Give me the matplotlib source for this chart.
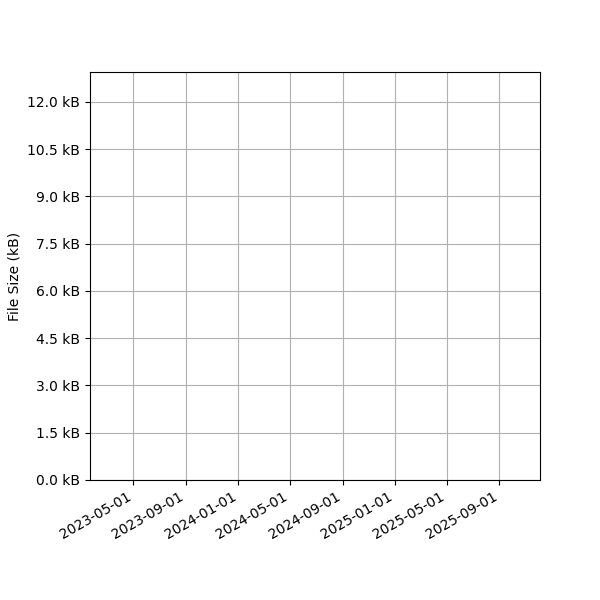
import matplotlib
matplotlib.use("Agg")
import matplotlib.pyplot as plt
import matplotlib.dates as mdates
import numpy as np
import datetime as dt

# Data (the reference chart contains no plotted points)
dates = []
sizes_kb = []
x_range = ["2023-01-20", "2025-12-05"]
y_max_kb = 12.95
tick_dates = ["2023-05-01", "2023-09-01", "2024-01-01", "2024-05-01",
              "2024-09-01", "2025-01-01", "2025-05-01", "2025-09-01"]
y_ticks_kb = [0.0, 1.5, 3.0, 4.5, 6.0, 7.5, 9.0, 10.5, 12.0]

fig, ax = plt.subplots(figsize=(6, 6), dpi=100)
fig.subplots_adjust(left=0.15, right=0.9, top=0.88, bottom=0.2)

ax.plot([dt.datetime.fromisoformat(d) for d in dates], sizes_kb)

ax.set_xlim(dt.datetime.fromisoformat(x_range[0]), dt.datetime.fromisoformat(x_range[1]))
ax.set_xticks([dt.datetime.fromisoformat(d) for d in tick_dates])
ax.xaxis.set_major_formatter(mdates.DateFormatter("%Y-%m-%d"))
ax.set_ylim(0, y_max_kb)
ax.set_yticks(y_ticks_kb)
ax.set_yticklabels([f"{v:.1f} kB" for v in y_ticks_kb])
ax.set_ylabel("File Size (kB)")
ax.grid(True)
plt.setp(ax.get_xticklabels(), rotation=30, ha="right")

fig.savefig("out.png", dpi=100)
